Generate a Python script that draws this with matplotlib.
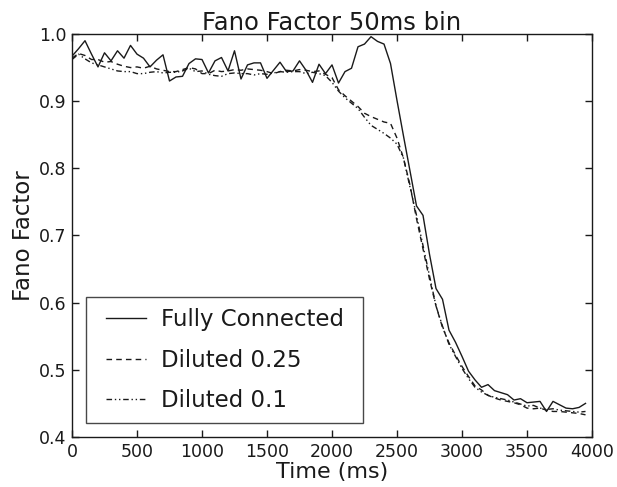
import matplotlib
matplotlib.use("Agg")
import matplotlib.pyplot as plt
from matplotlib.path import Path
import numpy as np

plt.rcParams['font.family'] = ['DejaVu Sans']

time_ms = list(range(0, 4000, 50))

fully_connected = [
    0.967, 0.978, 0.990, 0.970, 0.951, 0.972, 0.960, 0.975, 0.964, 0.983,
    0.970, 0.964, 0.951, 0.961, 0.969, 0.930, 0.936, 0.937, 0.956, 0.963,
    0.962, 0.942, 0.960, 0.965, 0.945, 0.975, 0.933, 0.954, 0.957, 0.957,
    0.934, 0.946, 0.958, 0.944, 0.945, 0.960, 0.946, 0.928, 0.955, 0.941,
    0.954, 0.927, 0.944, 0.949, 0.981, 0.985, 0.996, 0.989, 0.985, 0.956,
    0.901, 0.848, 0.796, 0.744, 0.730, 0.672, 0.621, 0.605, 0.559, 0.541,
    0.520, 0.498, 0.485, 0.474, 0.478, 0.469, 0.466, 0.463, 0.455, 0.457,
    0.451, 0.452, 0.453, 0.438, 0.453, 0.448, 0.443, 0.442, 0.444, 0.450,
]

diluted_025 = [
    0.964, 0.971, 0.968, 0.962, 0.962, 0.958, 0.959, 0.955, 0.952, 0.950,
    0.951, 0.949, 0.952, 0.948, 0.946, 0.944, 0.944, 0.947, 0.950, 0.948,
    0.941, 0.941, 0.946, 0.944, 0.945, 0.947, 0.946, 0.948, 0.947, 0.946,
    0.944, 0.941, 0.944, 0.946, 0.945, 0.947, 0.946, 0.944, 0.945, 0.940,
    0.935, 0.917, 0.908, 0.900, 0.892, 0.882, 0.877, 0.873, 0.869, 0.867,
    0.845, 0.815, 0.775, 0.725, 0.680, 0.635, 0.595, 0.563, 0.540, 0.522,
    0.505, 0.490, 0.476, 0.470, 0.462, 0.458, 0.455, 0.453, 0.451, 0.448,
    0.443, 0.442, 0.443, 0.440, 0.438, 0.438, 0.437, 0.436, 0.435, 0.433,
]

diluted_01 = [
    0.962, 0.970, 0.963, 0.957, 0.954, 0.951, 0.948, 0.945, 0.944, 0.944,
    0.941, 0.941, 0.943, 0.944, 0.942, 0.943, 0.943, 0.945, 0.949, 0.944,
    0.945, 0.940, 0.938, 0.937, 0.941, 0.942, 0.941, 0.941, 0.939, 0.941,
    0.940, 0.942, 0.944, 0.943, 0.944, 0.944, 0.941, 0.943, 0.941, 0.938,
    0.928, 0.915, 0.905, 0.897, 0.889, 0.876, 0.864, 0.858, 0.852, 0.845,
    0.836, 0.815, 0.772, 0.730, 0.685, 0.640, 0.595, 0.565, 0.538, 0.520,
    0.502, 0.487, 0.474, 0.467, 0.462, 0.459, 0.457, 0.455, 0.452, 0.449,
    0.446, 0.447, 0.443, 0.441, 0.442, 0.440, 0.439, 0.438, 0.437, 0.438,
]

series_labels = ['Fully Connected', 'Diluted 0.25', 'Diluted 0.1']
x_ticks = [0, 500, 1000, 1500, 2000, 2500, 3000, 3500, 4000]
y_ticks = [0.4, 0.5, 0.6, 0.7, 0.8, 0.9, 1.0]

ink = '#1a1a1a'
fig = plt.figure(figsize=(6.17, 4.87), dpi=100)
ax = fig.add_axes([0.1167, 0.1027, 0.8428, 0.8275])

ax.plot(time_ms, fully_connected, color=ink, lw=1.0, linestyle='-', label=series_labels[0])
ax.plot(time_ms, diluted_025, color=ink, lw=1.0, linestyle=(0, (4, 3)), label=series_labels[1])
ax.plot(time_ms, diluted_01, color=ink, lw=1.0, linestyle=(0, (4, 2, 1, 2, 1, 2)), label=series_labels[2])

ax.set_xlim(0, 4000)
ax.set_ylim(0.4, 1.0)
ax.set_xticks(x_ticks)
ax.set_yticks(y_ticks)
ax.set_yticklabels([f'{v:.1f}' for v in y_ticks])
ax.tick_params(direction='in', top=True, right=True, length=5, width=1,
               labelsize=12.5, colors=ink, pad=4)
for s in ax.spines.values():
    s.set_linewidth(1.0)
    s.set_color(ink)

ax.set_title('Fano Factor 50ms bin', fontsize=17.5, color=ink, pad=3)
ax.set_xlabel('Time (ms)', fontsize=16, color=ink, labelpad=1)
ax.set_ylabel('Fano Factor', fontsize=16.5, color=ink, labelpad=3)


def wide_box(x0, y0, width, height, mutation_size):
    dx = 0.35 * mutation_size
    verts = [(x0 - dx, y0), (x0 + width + dx, y0), (x0 + width + dx, y0 + height),
             (x0 - dx, y0 + height), (x0 - dx, y0)]
    return Path(verts, [Path.MOVETO, Path.LINETO, Path.LINETO, Path.LINETO, Path.CLOSEPOLY])


leg = ax.legend(loc='lower left', bbox_to_anchor=(0.027 + 8 / 520, 0.034), borderaxespad=0,
                fontsize=16.5, frameon=True, fancybox=False, edgecolor=ink,
                handlelength=1.75, handletextpad=0.67, labelspacing=0.75,
                borderpad=0.5, labelcolor=ink)
leg.get_frame().set_linewidth(1.0)
leg.get_frame().set_boxstyle(wide_box)

fig.savefig('out.png', dpi=100)
